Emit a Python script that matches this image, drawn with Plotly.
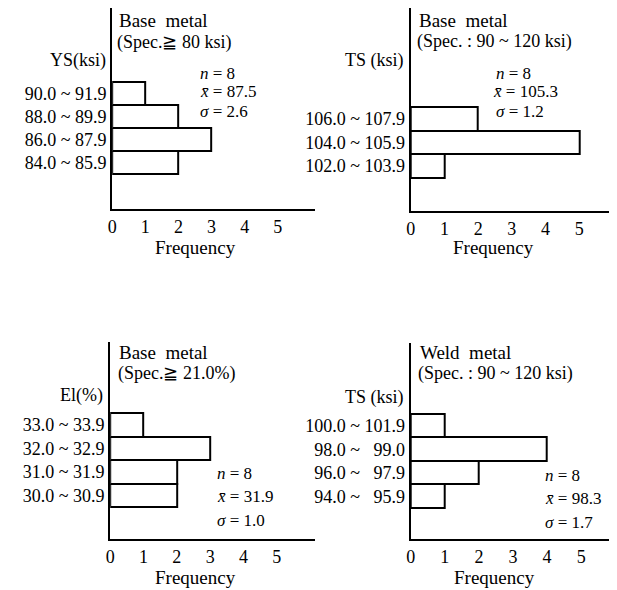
import plotly.graph_objects as go

W, H = 617, 590
OFF = 8  # page body margin
FW, FH = W - OFF, H - OFF
FONT = "Liberation Serif, Times New Roman, serif"

# ---- data (categories listed bottom -> top) ----
ys_bins = ["84.0 ~ 85.9", "86.0 ~ 87.9", "88.0 ~ 89.9", "90.0 ~ 91.9"]
ys_freq = [2, 3, 2, 1]

ts_base_bins = ["102.0 ~ 103.9", "104.0 ~ 105.9", "106.0 ~ 107.9"]
ts_base_freq = [1, 5, 2]

el_bins = ["30.0 ~ 30.9", "31.0 ~ 31.9", "32.0 ~ 32.9", "33.0 ~ 33.9"]
el_freq = [2, 2, 3, 1]

ts_weld_bins = ["94.0 ~\u00a0\u00a0\u00a095.9", "96.0 ~\u00a0\u00a0\u00a097.9", "98.0 ~\u00a0\u00a0\u00a099.0", "100.0 ~ 101.9"]
ts_weld_freq = [1, 2, 4, 1]

freq_ticks = [0, 1, 2, 3, 4, 5]

panels = [
    dict(bins=ys_bins, freq=ys_freq, xd=(108, 313), yd=(8, 209), xr=6.14, yr=(-2.02, 6.72)),
    dict(bins=ts_base_bins, freq=ts_base_freq, xd=(409, 617), yd=(8, 211), xr=6.12, yr=(-1.89, 6.67)),
    dict(bins=el_bins, freq=el_freq, xd=(106, 313), yd=(342, 539), xr=6.16, yr=(-1.86, 6.52)),
    dict(bins=ts_weld_bins, freq=ts_weld_freq, xd=(409, 617), yd=(343, 539), xr=6.05, yr=(-1.82, 6.52)),
]

def px(x):
    return min(1.0, max(0.0, (x - OFF) / FW))

def py(y):
    return min(1.0, max(0.0, 1 - (y - OFF) / FH))

fig = go.Figure()
layout = {}
for i, p in enumerate(panels, start=1):
    sx = "" if i == 1 else str(i)
    fig.add_trace(go.Bar(
        x=p["freq"], y=p["bins"], orientation="h",
        marker=dict(color="white", line=dict(color="black", width=2)),
        xaxis="x" + sx, yaxis="y" + sx, showlegend=False,
    ))
    layout["xaxis" + sx] = dict(
        domain=[px(p["xd"][0]), px(p["xd"][1])],
        range=[0, p["xr"]], anchor="y" + sx,
        tickvals=freq_ticks, showgrid=False, zeroline=False,
        showline=True, linecolor="black", linewidth=2, ticks="",
        tickfont=dict(family=FONT, size=18, color="black"),
    )
    layout["yaxis" + sx] = dict(
        domain=[py(p["yd"][1]), py(p["yd"][0])],
        range=list(p["yr"]), anchor="x" + sx, type="category",
        categoryorder="array", categoryarray=p["bins"],
        showgrid=False, zeroline=False,
        showline=True, linecolor="black", linewidth=2, ticks="",
        tickfont=dict(family=FONT, size=18, color="black"),
    )

ann = []
def txt(t, x, y, anchor="left", size=18):
    ann.append(dict(text=t, x=px(x), y=py(y), xref="paper", yref="paper",
                    xanchor=anchor, yanchor="middle", showarrow=False,
                    font=dict(family=FONT, size=size, color="black")))

# panel 1
txt("Base  metal", 113, 20, size=19)
txt("(Spec.\u2267 80 ksi)", 111, 42)
txt("YS(ksi)", 104, 60, anchor="right")
txt("<i>n</i> = 8", 195, 73, size=17)
txt("<i>x\u0304</i> = 87.5", 195, 92, size=17)
txt("<i>\u03c3</i> = 2.6", 195, 111, size=17)
txt("Frequency", 192, 247, anchor="center", size=19)
# panel 2
txt("Base  metal", 415, 20, size=19)
txt("(Spec. : 90 ~ 120 ksi)", 413, 41)
txt("TS (ksi)", 404, 60, anchor="right")
txt("<i>n</i> = 8", 493, 73, size=17)
txt("<i>x\u0304</i> = 105.3", 490, 92, size=17)
txt("<i>\u03c3</i> = 1.2", 493, 111, size=17)
txt("Frequency", 492, 247, anchor="center", size=19)
# panel 3
txt("Base  metal", 113, 352, size=19)
txt("(Spec.\u2267 21.0%)", 112, 373)
txt("El(%)", 101, 395, anchor="right")
txt("<i>n</i> = 8", 212, 473, size=17)
txt("<i>x\u0304</i> = 31.9", 212, 496, size=17)
txt("<i>\u03c3</i> = 1.0", 212, 520, size=17)
txt("Frequency", 192, 577, anchor="center", size=19)
# panel 4
txt("Weld  metal", 416, 352, size=19)
txt("(Spec. : 90 ~ 120 ksi)", 414, 373)
txt("TS (ksi)", 404, 397, anchor="right")
txt("<i>n</i> = 8", 542, 475, size=17)
txt("<i>x\u0304</i> = 98.3", 542, 498, size=17)
txt("<i>\u03c3</i> = 1.7", 542, 522, size=17)
txt("Frequency", 493, 577, anchor="center", size=19)

fig.update_layout(
    width=FW, height=FH, margin=dict(l=0, r=0, t=0, b=0),
    paper_bgcolor="white", plot_bgcolor="white",
    bargap=0, annotations=ann, **layout,
)
fig.write_html("out.html")
